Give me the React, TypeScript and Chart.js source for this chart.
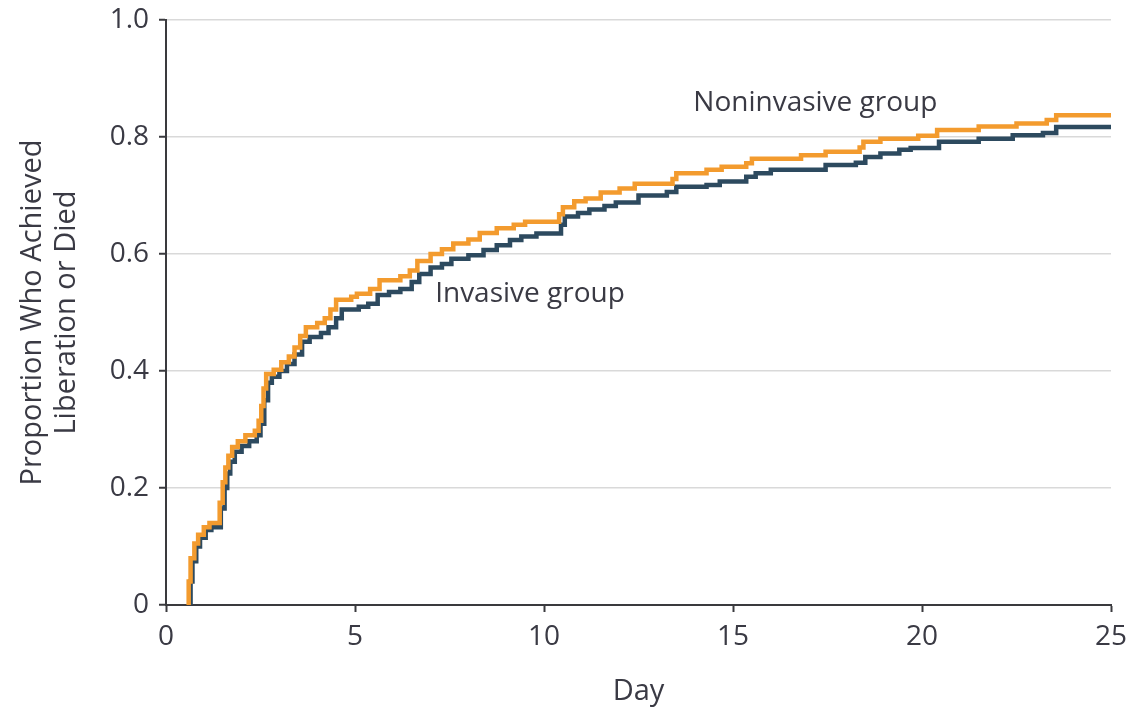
import { useEffect, useRef } from 'react';
import { Chart, registerables } from 'chart.js';

Chart.register(...registerables);

// Cumulative proportion who achieved liberation or died, by day (step curves)
const noninvasiveDays = [
  0.55, 0.6, 0.65, 0.75, 0.85, 1.0, 1.15, 1.42, 1.5, 1.57, 1.65, 1.75, 1.9, 2.1, 2.35,
  2.45, 2.52, 2.58, 2.65, 2.85, 3.05, 3.25, 3.4, 3.55, 3.7, 4.0, 4.2, 4.35, 4.5, 4.9,
  5.05, 5.4, 5.65, 6.2, 6.45, 6.65, 7.0, 7.3, 7.6, 8.0, 8.3, 8.75, 9.2, 9.5, 10.4,
  10.5, 10.8, 11.1, 11.5, 12.0, 12.4, 13.4, 13.5, 14.3, 14.7, 15.35, 15.5, 16.8, 17.45, 18.35,
  18.45, 18.9, 19.9, 20.4, 21.5, 22.5, 23.3, 23.55, 25,
];
const noninvasiveProportion = [
  0, 0.04, 0.08, 0.105, 0.12, 0.133, 0.14, 0.175, 0.21, 0.235, 0.255, 0.27, 0.28, 0.29, 0.298,
  0.315, 0.34, 0.37, 0.395, 0.402, 0.415, 0.425, 0.44, 0.46, 0.475, 0.482, 0.49, 0.505, 0.522, 0.527,
  0.532, 0.54, 0.555, 0.562, 0.572, 0.588, 0.6, 0.608, 0.618, 0.625, 0.636, 0.644, 0.65, 0.655, 0.668,
  0.68, 0.69, 0.695, 0.705, 0.712, 0.72, 0.728, 0.738, 0.744, 0.749, 0.755, 0.763, 0.769, 0.775, 0.782,
  0.792, 0.797, 0.802, 0.812, 0.818, 0.823, 0.829, 0.837, 0.837,
];

const invasiveDays = [
  0.6, 0.65, 0.7, 0.8, 0.9, 1.05, 1.2, 1.45, 1.55, 1.62, 1.7, 1.82, 2.0, 2.2, 2.4,
  2.5, 2.6, 2.7, 2.8, 3.0, 3.2, 3.4, 3.6, 3.8, 4.1, 4.3, 4.5, 4.65, 5.1, 5.35,
  5.6, 5.9, 6.2, 6.5, 6.7, 7.0, 7.3, 7.55, 8.0, 8.4, 8.75, 9.1, 9.4, 9.8, 10.45,
  10.55, 10.9, 11.2, 11.6, 11.9, 12.5, 13.25, 13.5, 14.3, 14.65, 15.35, 15.6, 16.0, 17.45, 18.25,
  18.5, 18.9, 19.4, 19.7, 20.45, 21.5, 22.4, 23.2, 23.55, 25,
];
const invasiveProportion = [
  0, 0.04, 0.075, 0.1, 0.115, 0.128, 0.133, 0.165, 0.2, 0.225, 0.245, 0.262, 0.272, 0.28, 0.29,
  0.31, 0.35, 0.38, 0.39, 0.4, 0.412, 0.428, 0.45, 0.458, 0.465, 0.475, 0.49, 0.505, 0.51, 0.515,
  0.53, 0.535, 0.54, 0.552, 0.566, 0.577, 0.583, 0.592, 0.598, 0.607, 0.615, 0.624, 0.63, 0.635, 0.65,
  0.664, 0.67, 0.676, 0.682, 0.688, 0.7, 0.706, 0.715, 0.718, 0.724, 0.732, 0.738, 0.744, 0.752, 0.756,
  0.766, 0.772, 0.778, 0.781, 0.792, 0.797, 0.803, 0.807, 0.817, 0.817,
];

// Group labels placed in data space (day, proportion)
const groupLabels = ['Noninvasive group', 'Invasive group'];
const groupLabelDays = [13.95, 7.12];
const groupLabelProportions = [0.858, 0.532];

const xTickStep = 5;
const yTickStep = 0.2;

const ORANGE = '#f39b2e';
const NAVY = '#2d4a5f';
const AXIS = '#3a3a3e';
const TEXT = '#3a3a44';
const GRID = '#d9d9d9';
const FONT = "'Open Sans', 'DejaVu Sans', sans-serif";

const toPoints = (xs: number[], ys: number[]) => xs.map((x, i) => ({ x, y: ys[i] }));

const groupLabelPlugin = {
  id: 'groupLabels',
  afterDatasetsDraw(chart: any) {
    const { ctx, scales } = chart;
    ctx.save();
    ctx.font = `28px ${FONT}`;
    ctx.fillStyle = TEXT;
    ctx.textAlign = 'left';
    ctx.textBaseline = 'middle';
    groupLabels.forEach((label, i) => {
      const px = scales.x.getPixelForValue(groupLabelDays[i]);
      const py = scales.y.getPixelForValue(groupLabelProportions[i]);
      ctx.fillText(label, px, py);
    });
    ctx.restore();
  },
};

export default function App() {
  const canvasRef = useRef<HTMLCanvasElement | null>(null);

  useEffect(() => {
    if (!canvasRef.current) return;
    const chart = new Chart(canvasRef.current, {
      type: 'line',
      data: {
        datasets: [
          {
            label: 'Noninvasive group',
            data: toPoints(noninvasiveDays, noninvasiveProportion),
            borderColor: ORANGE,
            borderWidth: 4.5,
            stepped: true,
            pointRadius: 0,
            fill: false,
          },
          {
            label: 'Invasive group',
            data: toPoints(invasiveDays, invasiveProportion),
            borderColor: NAVY,
            borderWidth: 4.5,
            stepped: true,
            pointRadius: 0,
            fill: false,
          },
        ],
      },
      options: {
        animation: false,
        responsive: true,
        maintainAspectRatio: false,
        layout: { padding: { top: 20, right: 25, left: 0, bottom: 0 } },
        plugins: {
          legend: { display: false },
          tooltip: { enabled: false },
        },
        scales: {
          x: {
            type: 'linear',
            min: 0,
            max: 25,
            ticks: {
              stepSize: xTickStep,
              color: TEXT,
              font: { family: FONT, size: 28 },
              padding: 8,
              maxRotation: 0,
            },
            grid: {
              drawOnChartArea: false,
              drawTicks: true,
              tickLength: 7,
              tickColor: AXIS,
              tickWidth: 2,
            },
            border: { display: true, color: AXIS, width: 2 },
            title: {
              display: true,
              text: 'Day',
              color: TEXT,
              font: { family: FONT, size: 29 },
              padding: { top: 0, bottom: 3 },
            },
            afterFit: (s: any) => {
              s.height = 107;
              s.paddingLeft = 0;
              s.paddingRight = 0;
            },
          },
          y: {
            type: 'linear',
            min: 0,
            max: 1,
            ticks: {
              stepSize: yTickStep,
              color: TEXT,
              font: { family: FONT, size: 28 },
              padding: 10,
              callback: (v: any) => (Number(v) === 0 ? '0' : Number(v).toFixed(1)),
            },
            grid: {
              color: GRID,
              lineWidth: 1.5,
              drawTicks: true,
              tickLength: 7,
              tickColor: AXIS,
              tickWidth: 2,
            },
            border: { display: true, color: AXIS, width: 2 },
            title: {
              display: true,
              text: ['Proportion Who Achieved', 'Liberation or Died'],
              color: TEXT,
              font: { family: FONT, size: 29 },
              padding: { top: 15, bottom: 0 },
            },
            afterFit: (s: any) => {
              s.width = 166;
              s.paddingTop = 0;
              s.paddingBottom = 0;
            },
          },
        },
      },
      plugins: [groupLabelPlugin],
    });
    return () => chart.destroy();
  }, []);

  return (
    <div
      style={{
        position: 'absolute',
        left: 0,
        top: 0,
        width: 1136,
        height: 712,
        background: '#ffffff',
      }}
    >
      <canvas ref={canvasRef} />
    </div>
  );
}
